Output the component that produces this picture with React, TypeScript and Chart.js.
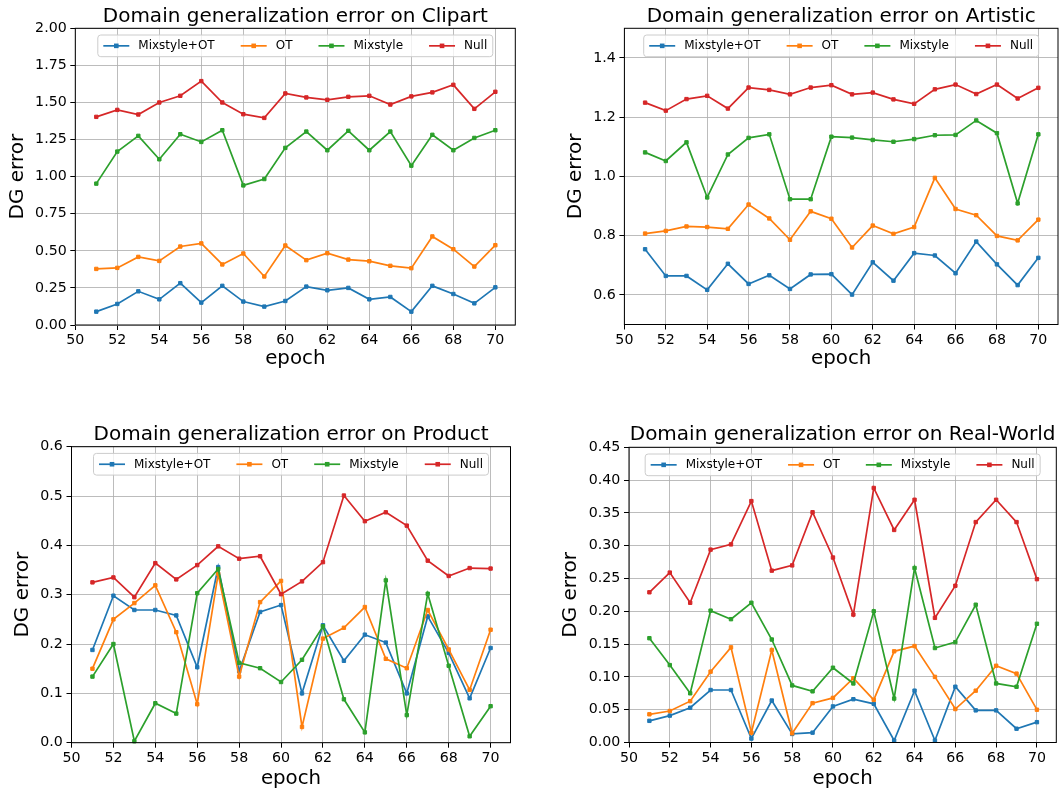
import React, { useEffect, useRef } from "react";
import { Chart, registerables } from "chart.js";

Chart.register(...registerables);
Chart.defaults.font.family = '"DejaVu Sans", sans-serif';

// ---------- data ----------
const epochs = [51, 52, 53, 54, 55, 56, 57, 58, 59, 60, 61, 62, 63, 64, 65, 66, 67, 68, 69, 70];
const seriesNames = ["Mixstyle+OT", "OT", "Mixstyle", "Null"];
const seriesColors = ["#1f77b4", "#ff7f0e", "#2ca02c", "#d62728"];
const xTicks = [50, 52, 54, 56, 58, 60, 62, 64, 66, 68, 70];

const clipartMixOT = [0.090, 0.142, 0.227, 0.173, 0.282, 0.151, 0.264, 0.158, 0.124, 0.162, 0.259, 0.234, 0.250, 0.173, 0.189, 0.090, 0.264, 0.209, 0.146, 0.254];
const clipartOT = [0.378, 0.385, 0.459, 0.432, 0.529, 0.550, 0.408, 0.482, 0.327, 0.536, 0.437, 0.484, 0.441, 0.430, 0.399, 0.383, 0.597, 0.511, 0.394, 0.538];
const clipartMix = [0.953, 1.169, 1.275, 1.117, 1.286, 1.234, 1.313, 0.941, 0.984, 1.194, 1.304, 1.178, 1.309, 1.178, 1.304, 1.074, 1.282, 1.178, 1.261, 1.313];
const clipartNull = [1.403, 1.450, 1.419, 1.500, 1.545, 1.644, 1.500, 1.421, 1.396, 1.561, 1.534, 1.518, 1.538, 1.545, 1.486, 1.541, 1.568, 1.619, 1.457, 1.572];
const clipartYTicks = [0, 0.25, 0.5, 0.75, 1.0, 1.25, 1.5, 1.75, 2.0];

const artisticMixOT = [0.754, 0.664, 0.664, 0.617, 0.705, 0.637, 0.666, 0.620, 0.669, 0.670, 0.601, 0.710, 0.648, 0.741, 0.733, 0.673, 0.780, 0.703, 0.633, 0.725];
const artisticOT = [0.807, 0.816, 0.831, 0.829, 0.823, 0.905, 0.858, 0.786, 0.882, 0.857, 0.760, 0.834, 0.806, 0.829, 0.995, 0.890, 0.869, 0.799, 0.784, 0.854];
const artisticMix = [1.081, 1.052, 1.115, 0.929, 1.074, 1.130, 1.142, 0.923, 0.923, 1.134, 1.131, 1.123, 1.117, 1.126, 1.139, 1.140, 1.189, 1.146, 0.909, 1.142];
const artisticNull = [1.249, 1.222, 1.261, 1.272, 1.229, 1.300, 1.292, 1.277, 1.300, 1.308, 1.277, 1.283, 1.260, 1.245, 1.294, 1.310, 1.278, 1.310, 1.263, 1.299];
const artisticYTicks = [0.6, 0.8, 1.0, 1.2, 1.4];

const productMixOT = [0.188, 0.298, 0.269, 0.269, 0.258, 0.153, 0.356, 0.145, 0.265, 0.279, 0.100, 0.238, 0.166, 0.219, 0.203, 0.100, 0.256, 0.182, 0.090, 0.192];
const productOT = [0.150, 0.250, 0.283, 0.319, 0.224, 0.078, 0.342, 0.134, 0.285, 0.328, 0.032, 0.211, 0.233, 0.275, 0.170, 0.151, 0.269, 0.189, 0.107, 0.229];
const productMix = [0.134, 0.200, 0.003, 0.080, 0.059, 0.303, 0.352, 0.162, 0.151, 0.123, 0.168, 0.236, 0.088, 0.021, 0.329, 0.056, 0.302, 0.156, 0.013, 0.074];
const productNull = [0.325, 0.335, 0.295, 0.364, 0.331, 0.360, 0.398, 0.373, 0.378, 0.301, 0.327, 0.366, 0.501, 0.449, 0.467, 0.440, 0.369, 0.338, 0.354, 0.353];
const productYTicks = [0, 0.1, 0.2, 0.3, 0.4, 0.5, 0.6];

const realWorldMixOT = [0.033, 0.041, 0.053, 0.080, 0.080, 0.006, 0.064, 0.013, 0.015, 0.055, 0.066, 0.059, 0.003, 0.079, 0.003, 0.085, 0.049, 0.049, 0.021, 0.031];
const realWorldOT = [0.043, 0.048, 0.063, 0.108, 0.145, 0.015, 0.141, 0.014, 0.060, 0.068, 0.098, 0.065, 0.139, 0.147, 0.100, 0.051, 0.079, 0.117, 0.105, 0.050];
const realWorldMix = [0.159, 0.118, 0.075, 0.201, 0.188, 0.213, 0.157, 0.087, 0.078, 0.114, 0.090, 0.200, 0.067, 0.266, 0.144, 0.153, 0.210, 0.090, 0.085, 0.181];
const realWorldNull = [0.229, 0.259, 0.213, 0.294, 0.302, 0.368, 0.262, 0.270, 0.351, 0.282, 0.195, 0.388, 0.324, 0.370, 0.190, 0.239, 0.336, 0.370, 0.336, 0.249];
const realWorldYTicks = [0, 0.05, 0.1, 0.15, 0.2, 0.25, 0.3, 0.35, 0.4, 0.45];

// ---------- layout ----------
type Panel = {
  title: string;
  series: number[][];
  yTicks: number[];
  yMin: number;
  yMax: number;
  yDec: number;
  left: number;
  top: number;
  width: number;
  height: number;
  pad: { left: number; right: number; top: number; bottom: number };
  yW: number;
  xH: number;
  yTitlePad: number;
  titleGap: number;
};

const panels: Panel[] = [
  {
    title: "Domain generalization error on Clipart",
    series: [clipartMixOT, clipartOT, clipartMix, clipartNull],
    yTicks: clipartYTicks, yMin: 0, yMax: 2.0, yDec: 2,
    left: 0, top: 0, width: 545, height: 395,
    pad: { left: 0, right: 29.7, top: 28.3, bottom: 23.8 },
    yW: 75.3, xH: 46.2, yTitlePad: 6, titleGap: 6.6,
  },
  {
    title: "Domain generalization error on Artistic",
    series: [artisticMixOT, artisticOT, artisticMix, artisticNull],
    yTicks: artisticYTicks, yMin: 0.5, yMax: 1.5, yDec: 1,
    left: 545, top: 0, width: 518, height: 395,
    pad: { left: 0, right: 0.5, top: 28.3, bottom: 24.3 },
    yW: 79.4, xH: 46.2, yTitlePad: 18.3, titleGap: 6.6,
  },
  {
    title: "Domain generalization error on Product",
    series: [productMixOT, productOT, productMix, productNull],
    yTicks: productYTicks, yMin: 0, yMax: 0.6, yDec: 1,
    left: 0, top: 395, width: 545, height: 405,
    pad: { left: 0, right: 34.5, top: 51.7, bottom: 9.3 },
    yW: 71.5, xH: 48, yTitlePad: 11.1, titleGap: 7.2,
  },
  {
    title: "Domain generalization error on Real-World",
    series: [realWorldMixOT, realWorldOT, realWorldMix, realWorldNull],
    yTicks: realWorldYTicks, yMin: 0, yMax: 0.45, yDec: 2,
    left: 545, top: 395, width: 518, height: 405,
    pad: { left: 0, right: 6.7, top: 52.3, bottom: 9.3 },
    yW: 84, xH: 48.2, yTitlePad: 13.3, titleGap: 7.6,
  },
];

const gridColor = "rgba(176,176,176,0.85)";

function makeDecorPlugin(panel: Panel) {
  return {
    id: "frameTitleLegend",
    afterDatasetsDraw(chart: any) {
      const { ctx, chartArea } = chart;
      ctx.save();
      // axes frame (all four spines)
      ctx.strokeStyle = "#000";
      ctx.lineWidth = 1;
      ctx.strokeRect(chartArea.left, chartArea.top, chartArea.right - chartArea.left, chartArea.bottom - chartArea.top);

      // title, centred over the axes
      ctx.font = `20px "DejaVu Sans", sans-serif`;
      ctx.fillStyle = "#000";
      ctx.textAlign = "center";
      ctx.textBaseline = "alphabetic";
      ctx.fillText(panel.title, (chartArea.left + chartArea.right) / 2, chartArea.top - panel.titleGap);

      // legend (upper center, inside the axes)
      const fs = 12;
      ctx.font = `${fs}px "DejaVu Sans", sans-serif`;
      const handle = 26, textPad = 9, colSp = 26, boxPad = 5.5, boxH = 21.7;
      const items = seriesNames.map((label, i) => ({ label, color: seriesColors[i], w: ctx.measureText(label).width }));
      const total = items.reduce((s, it) => s + handle + textPad + it.w, 0) + colSp * (items.length - 1) + 2 * boxPad;
      const x0 = (chartArea.left + chartArea.right) / 2 - total / 2;
      const y0 = chartArea.top + 6.7;
      const r = 3;
      ctx.beginPath();
      ctx.moveTo(x0 + r, y0);
      ctx.lineTo(x0 + total - r, y0);
      ctx.arcTo(x0 + total, y0, x0 + total, y0 + r, r);
      ctx.lineTo(x0 + total, y0 + boxH - r);
      ctx.arcTo(x0 + total, y0 + boxH, x0 + total - r, y0 + boxH, r);
      ctx.lineTo(x0 + r, y0 + boxH);
      ctx.arcTo(x0, y0 + boxH, x0, y0 + boxH - r, r);
      ctx.lineTo(x0, y0 + r);
      ctx.arcTo(x0, y0, x0 + r, y0, r);
      ctx.closePath();
      ctx.fillStyle = "rgba(255,255,255,0.8)";
      ctx.fill();
      ctx.strokeStyle = "#cccccc";
      ctx.lineWidth = 1;
      ctx.stroke();

      const cy = y0 + boxH / 2;
      let x = x0 + boxPad;
      items.forEach((it) => {
        ctx.strokeStyle = it.color;
        ctx.lineWidth = 1.7;
        ctx.beginPath();
        ctx.moveTo(x, cy);
        ctx.lineTo(x + handle, cy);
        ctx.stroke();
        ctx.fillStyle = it.color;
        ctx.fillRect(x + handle / 2 - 2.3, cy - 2.3, 4.6, 4.6);
        ctx.fillStyle = "#000";
        ctx.textAlign = "left";
        ctx.textBaseline = "middle";
        ctx.fillText(it.label, x + handle + textPad, cy + 0.5);
        x += handle + textPad + it.w + colSp;
      });
      ctx.restore();
    },
  };
}

function PanelChart({ panel }: { panel: Panel }) {
  const ref = useRef<HTMLCanvasElement>(null);
  useEffect(() => {
    const canvas = ref.current;
    if (!canvas) return;
    const n = seriesNames.length;
    const chart = new Chart(canvas, {
      type: "line",
      data: {
        datasets: seriesNames.map((name, i) => ({
          label: name,
          data: panel.series[i].map((v, j) => ({ x: epochs[j], y: v })),
          borderColor: seriesColors[i],
          backgroundColor: seriesColors[i],
          pointBackgroundColor: seriesColors[i],
          pointBorderColor: seriesColors[i],
          borderWidth: 1.7,
          pointStyle: "rect",
          pointRadius: 2.4,
          pointBorderWidth: 1,
          tension: 0,
          fill: false,
          clip: false as any,
          order: n - 1 - i,
        })),
      },
      options: {
        responsive: false,
        animation: false,
        events: [],
        layout: { padding: panel.pad },
        plugins: {
          legend: { display: false },
          tooltip: { enabled: false },
          title: { display: false },
        },
        scales: {
          x: {
            type: "linear",
            min: 50,
            max: 70.95,
            bounds: "data",
            afterBuildTicks: (s: any) => {
              s.ticks = xTicks.map((v) => ({ value: v }));
            },
            afterFit: (s: any) => {
              s.height = panel.xH;
            },
            ticks: {
              autoSkip: false,
              maxRotation: 0,
              minRotation: 0,
              padding: 2,
              color: "#000",
              font: { size: 14.2 },
              callback: (v: any) => String(v),
            },
            grid: { color: gridColor, lineWidth: 1, drawTicks: true, tickLength: 5, tickColor: "#000", tickWidth: 1 },
            border: { display: false },
            title: { display: true, text: "epoch", color: "#000", font: { size: 19.8 }, padding: { top: 0, bottom: 0 } },
          },
          y: {
            type: "linear",
            min: panel.yMin,
            max: panel.yMax,
            bounds: "data",
            afterBuildTicks: (s: any) => {
              s.ticks = panel.yTicks.map((v) => ({ value: v }));
            },
            afterFit: (s: any) => {
              s.width = panel.yW;
            },
            ticks: {
              autoSkip: false,
              padding: 3.6,
              color: "#000",
              font: { size: 14.2 },
              callback: (v: any) => Number(v).toFixed(panel.yDec),
            },
            grid: { color: gridColor, lineWidth: 1, drawTicks: true, tickLength: 5, tickColor: "#000", tickWidth: 1 },
            border: { display: false },
            title: { display: true, text: "DG error", color: "#000", font: { size: 20 }, padding: { top: panel.yTitlePad, bottom: 0 } },
          },
        },
      } as any,
      plugins: [makeDecorPlugin(panel)],
    });
    return () => chart.destroy();
  }, [panel]);
  return (
    <canvas
      ref={ref}
      width={panel.width}
      height={panel.height}
      style={{ position: "absolute", left: panel.left, top: panel.top, width: panel.width, height: panel.height }}
    />
  );
}

export default function App() {
  return (
    <div
      style={{
        position: "absolute",
        left: 0,
        top: 0,
        width: 1063,
        height: 788,
        overflow: "hidden",
        background: "#ffffff",
      }}
    >
      {panels.map((p) => (
        <PanelChart key={p.title} panel={p} />
      ))}
    </div>
  );
}
